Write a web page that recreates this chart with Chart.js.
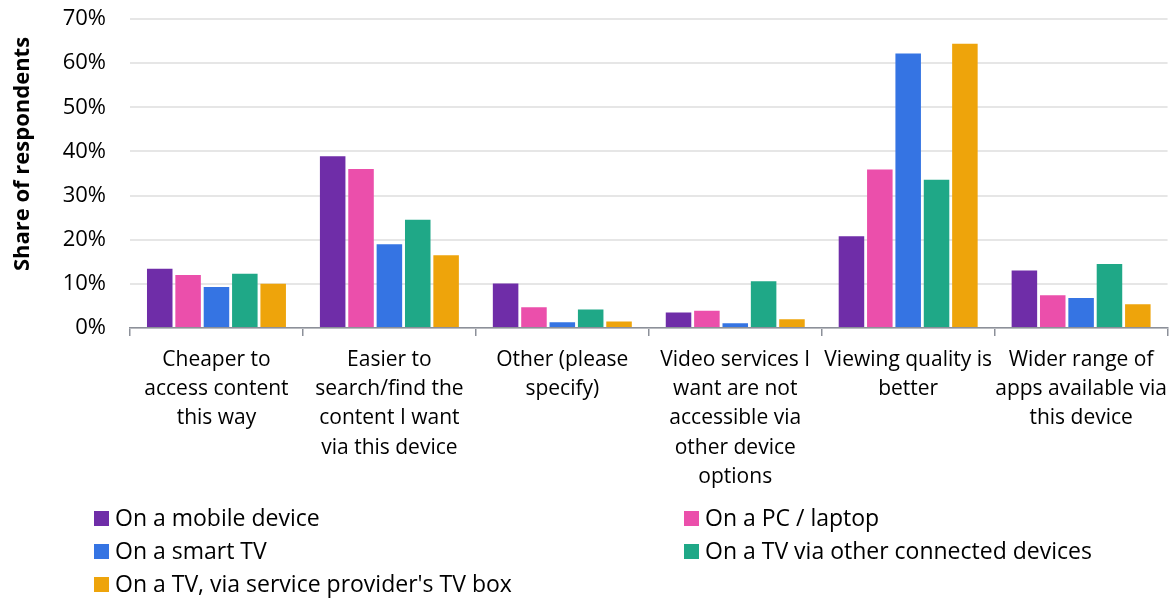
<!DOCTYPE html>
<html>
<head>
<meta charset="utf-8">
<script src="https://cdn.jsdelivr.net/npm/chart.js@4"></script>
<style>
  html, body { margin: 0; padding: 0; background: #fff; }
  #wrap { width: 1176px; height: 599px; }
</style>
</head>
<body>
<div id="wrap"><canvas id="myChart"></canvas></div>
<script>
const categories = [
  ['Cheaper to', 'access content', 'this way'],
  ['Easier to', 'search/find the', 'content I want', 'via this device'],
  ['Other (please', 'specify)'],
  ['Video services I', 'want are not', 'accessible via', 'other device', 'options'],
  ['Viewing quality is', 'better'],
  ['Wider range of', 'apps available via', 'this device']
]

const seriesNames = [
  'On a mobile device',
  'On a PC / laptop',
  'On a smart TV',
  'On a TV via other connected devices',
  "On a TV, via service provider's TV box"
]

// percent of respondents
const mobile = [13.4, 38.9, 10.1, 3.5, 20.8, 13.0]
const pcLaptop = [12.0, 36.0, 4.7, 3.9, 35.9, 7.4]
const smartTv = [9.3, 19.0, 1.3, 1.1, 62.2, 6.8]
const tvConnected = [12.3, 24.5, 4.2, 10.6, 33.6, 14.5]
const tvBox = [10.0, 16.5, 1.5, 2.0, 64.4, 5.4]

const yTicks = [0, 10, 20, 30, 40, 50, 60, 70]
const yTitle = 'Share of respondents'

const colors = ['#6F2DA8', '#EB4FAB', '#3574E3', '#1FA887', '#EEA40B']
const series = [mobile, pcLaptop, smartTv, tvConnected, tvBox]

const FONT = "'Open Sans', sans-serif"

// two-column legend under the axis, plus the rotated y title
const extras = {
  id: 'extras',
  afterDraw(chart, args, opts) {
    const ctx = chart.ctx
    ctx.save()
    ctx.font = '23px ' + FONT
    ctx.textBaseline = 'middle'
    chart.data.datasets.forEach((ds, i) => {
      const col = i % 2
      const row = Math.floor(i / 2)
      const x = opts.columns[col]
      const y = chart.height - opts.rowsFromBottom[row]
      ctx.fillStyle = ds.backgroundColor
      ctx.fillRect(x, y - 7, 15, 15)
      ctx.fillStyle = '#000'
      ctx.fillText(ds.label, x + 21, y + 1)
    })

    ctx.translate(opts.titleX, opts.titleY)
    ctx.rotate(-Math.PI / 2)
    ctx.textAlign = 'center'
    ctx.font = 'bold 22px ' + FONT
    ctx.fillText(yTitle, 0, 0)
    ctx.restore()
  }
}

const ctx = document.getElementById('myChart')
new Chart(ctx, {
  type: 'bar',
  data: {
    labels: categories,
    datasets: series.map((values, i) => ({
      label: seriesNames[i],
      data: values,
      backgroundColor: colors[i],
      barPercentage: 0.9,
      categoryPercentage: 0.82
    }))
  },
  options: {
    responsive: true,
    maintainAspectRatio: false,
    animation: false,
    layout: { padding: { top: 19, right: 0, left: 0, bottom: 98 } },
    plugins: {
      legend: { display: false },
      tooltip: { enabled: false },
      extras: {
        columns: [94, 684],
        rowsFromBottom: [81, 48, 15],
        titleX: 23,
        titleY: 154
      }
    },
    scales: {
      x: {
        grid: {
          display: true,
          drawOnChartArea: false,
          drawTicks: true,
          tickLength: 8,
          color: '#8C9099',
          lineWidth: 1.5
        },
        border: { display: true, color: '#8C9099', width: 1.5 },
        ticks: {
          color: '#000',
          font: { family: FONT, size: 21, lineHeight: 1.4 },
          maxRotation: 0,
          autoSkip: false,
          padding: 9
        }
      },
      y: {
        min: 0,
        max: 70,
        afterBuildTicks: (scale) => {
          scale.ticks = yTicks.map(v => ({ value: v }))
        },
        afterFit: (scale) => { scale.width = 130 },
        grid: {
          color: '#E6E6E6',
          lineWidth: 2,
          drawTicks: true,
          tickLength: 24,
          tickColor: 'transparent'
        },
        border: { display: false },
        ticks: {
          color: '#000',
          font: { family: FONT, size: 22 },
          padding: 0,
          callback: (v) => v + '%'
        }
      }
    }
  },
  plugins: [extras]
})
</script>
</body>
</html>
